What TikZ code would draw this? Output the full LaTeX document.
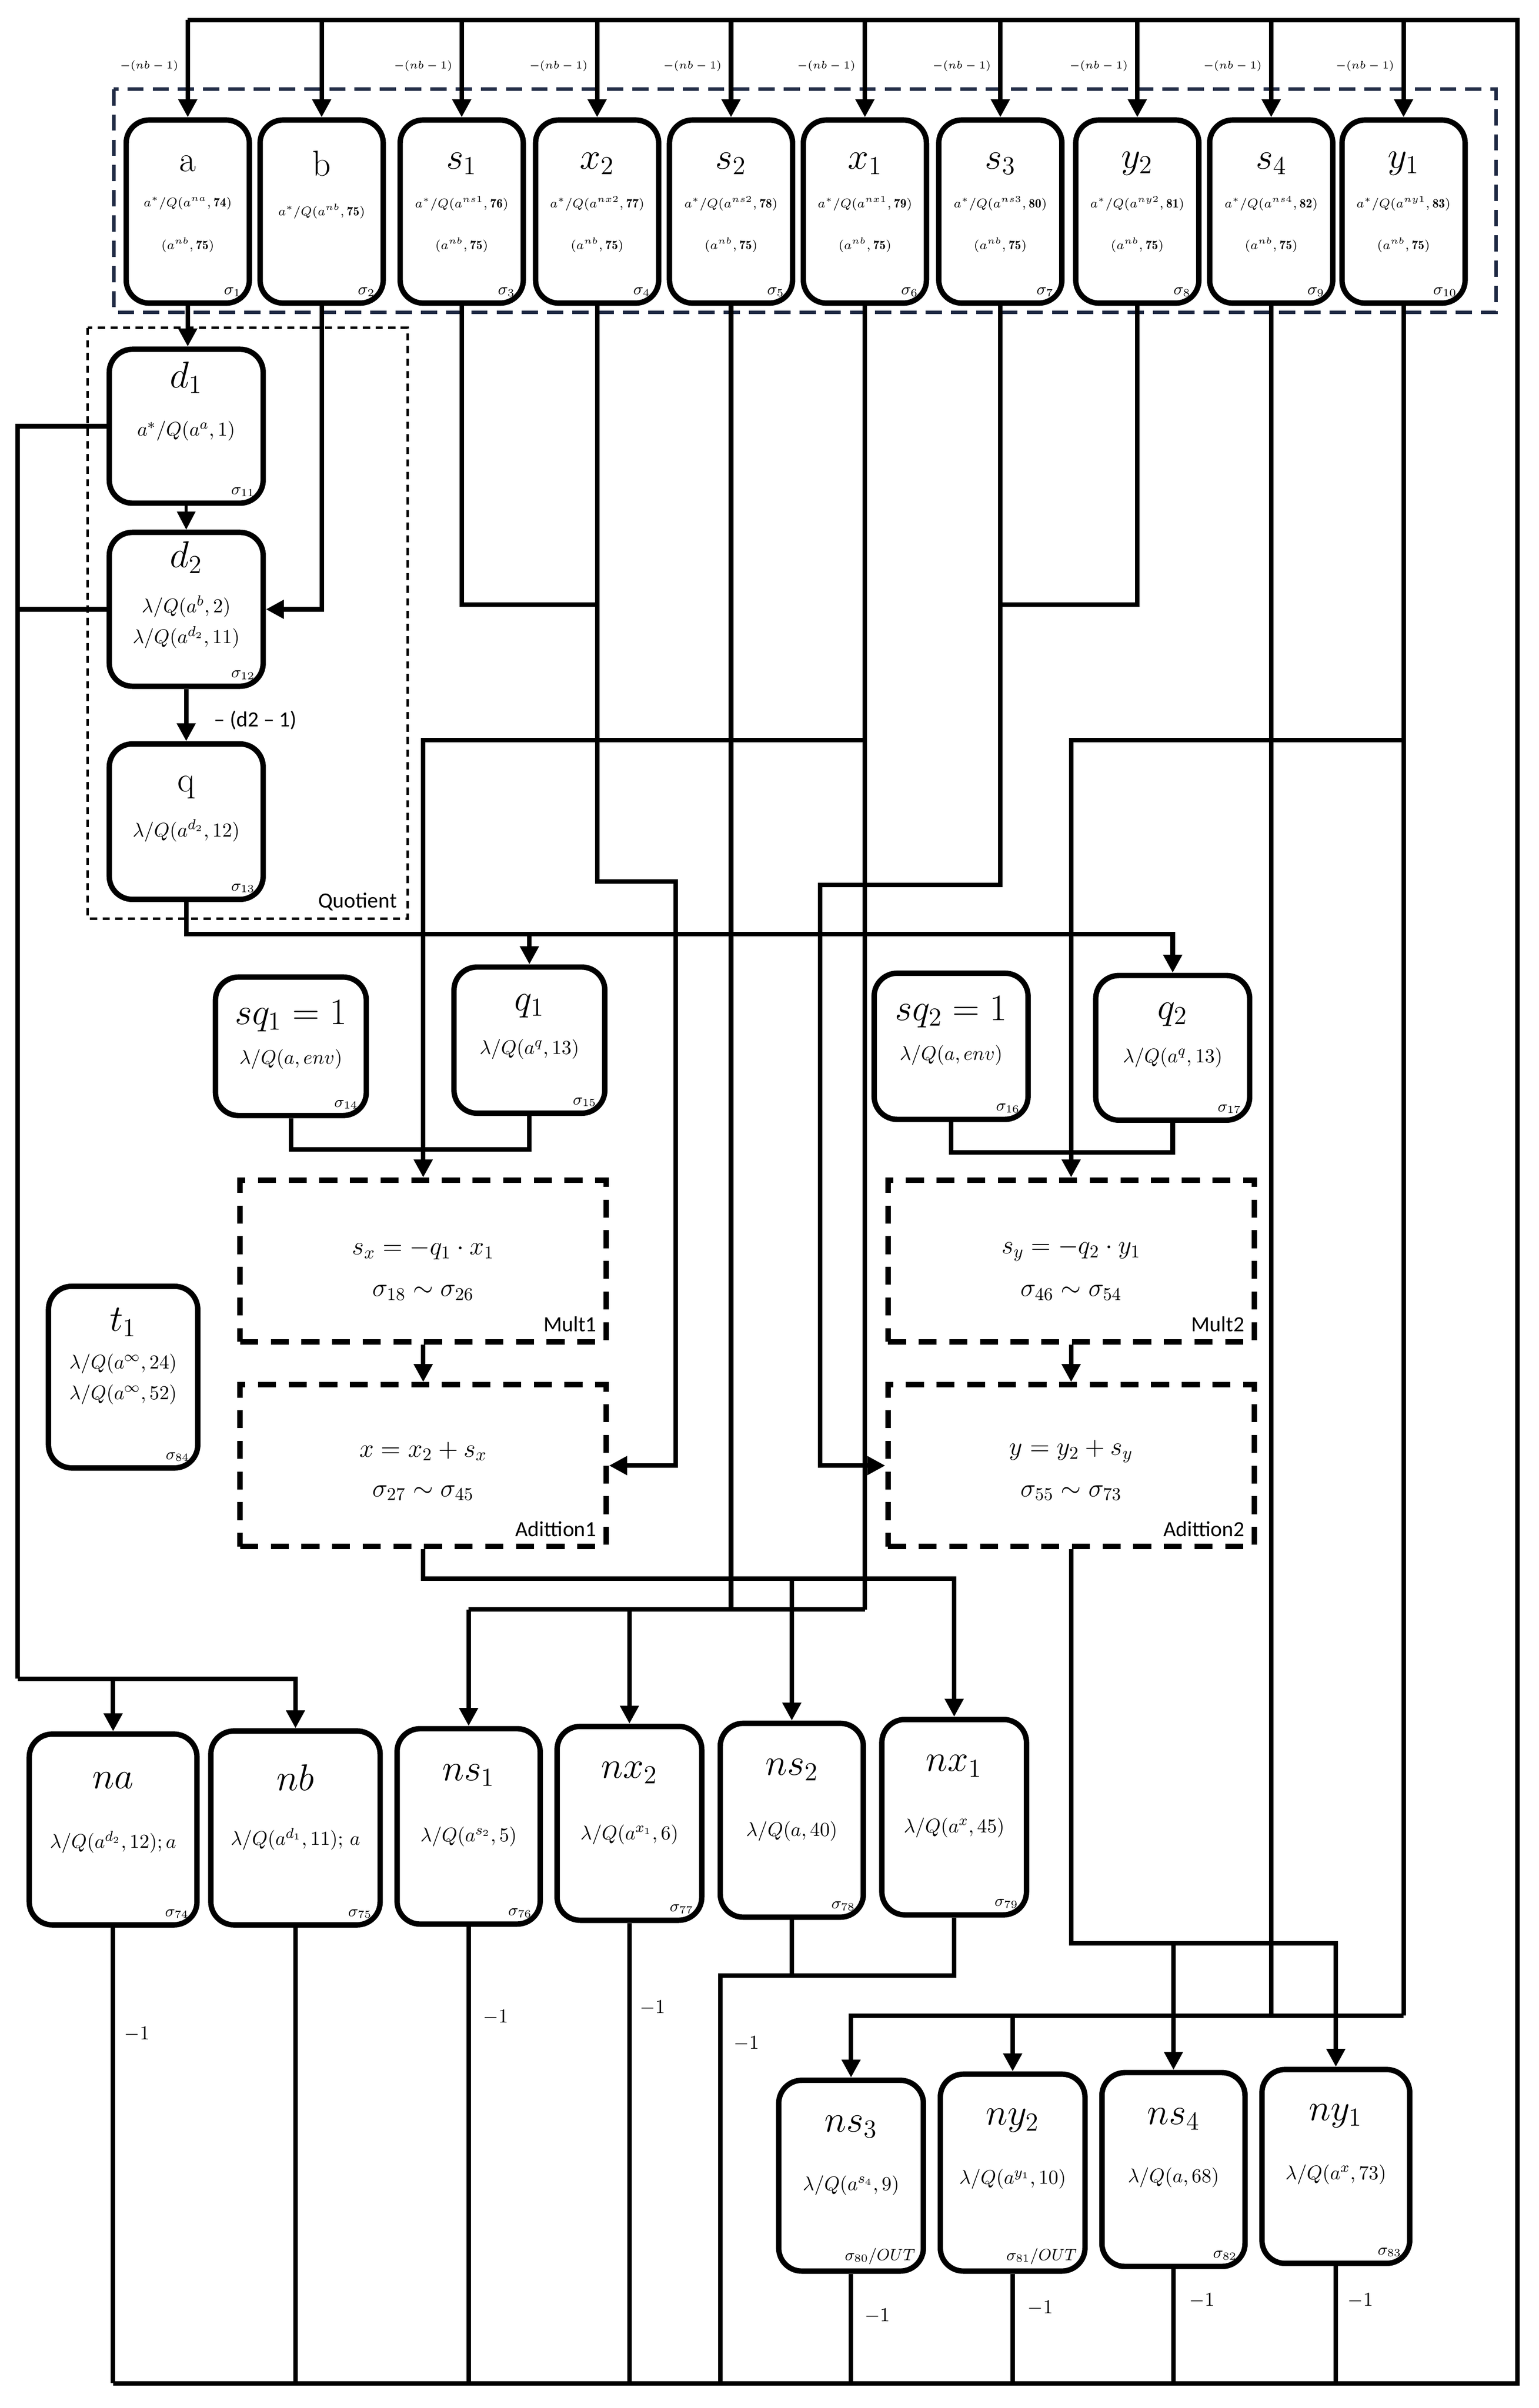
\documentclass[tikz,border=0pt]{standalone}
\usepackage{fontspec}
\setsansfont{Carlito}
\usetikzlibrary{calc,arrows.meta}
\definecolor{navy}{HTML}{1F2A44}
\begin{document}
\begin{tikzpicture}[x=0.03cm,y=-0.03cm,
 box/.style={draw,line width=3pt,rounded corners=4.5mm,inner sep=0pt,fill=white},
 dbox/.style={draw,line width=3pt,dash pattern=on 10pt off 7pt,inner sep=0pt},
 ln/.style={line width=2.5pt},
 ar/.style={line width=2.5pt,-{Triangle[length=10pt,width=10pt]}},
 big/.style={font=\fontsize{20}{22}\selectfont},
 mid/.style={font=\fontsize{11}{13}\selectfont},
 sml/.style={font=\fontsize{7}{8}\selectfont},
 sg/.style={font=\fontsize{9}{10}\selectfont,anchor=south east},
 tny/.style={font=\fontsize{6}{7}\selectfont,anchor=east},
 sfl/.style={font=\sffamily\fontsize{12}{14}\selectfont}]
\useasboundingbox (0,0) rectangle (1000,1565);
\newcommand\mybox[5]{\node[box,minimum width=#4*0.3mm,minimum height=#5*0.3mm] (#1) at (#2,#3) {};}
\newcommand\lab[4]{\node[#3] at ($(#1.north)+(0,#2)$) {#4};}
\newcommand\sgm[2]{\node[sg] at ($(#1.south east)+(-3,-2)$) {#2};}
% coordinates
\coordinate (T) at (986,13);
\coordinate (B) at (986,1549);
\coordinate (L) at (11.5,1091);
\coordinate (Qy) at (0,607);
\coordinate (Y747) at (0,747);
\coordinate (Y748) at (0,749);
\coordinate (J1) at (0,481);
\coordinate (Y393) at (0,393);
\coordinate (X2a) at (439,573);
\coordinate (S3a) at (533,575);
\coordinate (Y1046) at (0,1046);
\coordinate (Y1026) at (0,1026);
\coordinate (Y1263) at (0,1263);
\coordinate (Y1310) at (0,1310);
\coordinate (M) at (468,1284);
% dashed group boxes
\draw[navy,line width=2pt,dash pattern=on 9pt off 5pt] (74,58) rectangle (972,203);
\draw[line width=1.5pt,dash pattern=on 4pt off 3pt] (57,213) rectangle (265,597);
\node[sfl,anchor=south east] at (262,596) {Quotient};
% top nodes
\foreach \n/\x in {a/122,b/209,s1/300,x2/388,s2/475,x1/562,s3/650,y2/739,s4/826,y1/912}{
 \mybox{\n}{\x}{137.5}{80}{119}}
\lab{a}{30}{big}{a}
\lab{b}{30}{big}{b}
\lab{s1}{30}{big}{$s_1$}
\lab{x2}{30}{big}{$x_2$}
\lab{s2}{30}{big}{$s_2$}
\lab{x1}{30}{big}{$x_1$}
\lab{s3}{30}{big}{$s_3$}
\lab{y2}{30}{big}{$y_2$}
\lab{s4}{30}{big}{$s_4$}
\lab{y1}{30}{big}{$y_1$}
\lab{a}{56}{sml}{$a^*/Q(a^{na},\mathbf{74})$}
\lab{b}{61}{sml}{$a^*/Q(a^{nb},\mathbf{75})$}
\lab{s1}{56}{sml}{$a^*/Q(a^{ns1},\mathbf{76})$}
\lab{x2}{56}{sml}{$a^*/Q(a^{nx2},\mathbf{77})$}
\lab{s2}{56}{sml}{$a^*/Q(a^{ns2},\mathbf{78})$}
\lab{x1}{56}{sml}{$a^*/Q(a^{nx1},\mathbf{79})$}
\lab{s3}{56}{sml}{$a^*/Q(a^{ns3},\mathbf{80})$}
\lab{y2}{56}{sml}{$a^*/Q(a^{ny2},\mathbf{81})$}
\lab{s4}{56}{sml}{$a^*/Q(a^{ns4},\mathbf{82})$}
\lab{y1}{56}{sml}{$a^*/Q(a^{ny1},\mathbf{83})$}
\foreach \n in {a,s1,x2,s2,x1,s3,y2,s4,y1}{\lab{\n}{83}{sml}{$(a^{nb},\mathbf{75})$}}
\sgm{a}{$\sigma_1$}\sgm{b}{$\sigma_2$}\sgm{s1}{$\sigma_3$}\sgm{x2}{$\sigma_4$}\sgm{s2}{$\sigma_5$}
\sgm{x1}{$\sigma_6$}\sgm{s3}{$\sigma_7$}\sgm{y2}{$\sigma_8$}\sgm{s4}{$\sigma_9$}\sgm{y1}{$\sigma_{10}$}
% quotient nodes
\mybox{d1}{121}{277}{100}{100}
\lab{d1}{20}{big}{$d_1$}
\lab{d1}{55}{mid}{$a^*/Q(a^a,1)$}
\sgm{d1}{$\sigma_{11}$}
\mybox{d2}{121}{396}{100}{100}
\lab{d2}{18}{big}{$d_2$}
\lab{d2}{50}{mid}{$\lambda/Q(a^b,2)$}
\lab{d2}{70}{mid}{$\lambda/Q(a^{d_2},11)$}
\sgm{d2}{$\sigma_{12}$}
\mybox{q}{121}{534}{100}{101}
\lab{q}{30}{big}{q}
\lab{q}{58}{mid}{$\lambda/Q(a^{d_2},12)$}
\sgm{q}{$\sigma_{13}$}
% sq / q
\mybox{sq1}{189}{680}{98}{90}
\lab{sq1}{27}{big}{$sq_1=1$}
\lab{sq1}{55}{mid}{$\lambda/Q(a,env)$}
\sgm{sq1}{$\sigma_{14}$}
\mybox{q1}{344}{676}{98}{95}
\lab{q1}{27}{big}{$q_1$}
\lab{q1}{55}{mid}{$\lambda/Q(a^q,13)$}
\sgm{q1}{$\sigma_{15}$}
\mybox{sq2}{618}{680}{100}{95}
\lab{sq2}{27}{big}{$sq_2=1$}
\lab{sq2}{55}{mid}{$\lambda/Q(a,env)$}
\sgm{sq2}{$\sigma_{16}$}
\mybox{q2}{762}{681}{100}{94}
\lab{q2}{27}{big}{$q_2$}
\lab{q2}{55}{mid}{$\lambda/Q(a^q,13)$}
\sgm{q2}{$\sigma_{17}$}
% t1
\mybox{t1}{80}{895}{97}{118}
\lab{t1}{25}{big}{$t_1$}
\lab{t1}{52}{mid}{$\lambda/Q(a^\infty,24)$}
\lab{t1}{72}{mid}{$\lambda/Q(a^\infty,52)$}
\sgm{t1}{$\sigma_{84}$}
% mult / add
\node[dbox,minimum width=238*0.3mm,minimum height=105*0.3mm] (mult1) at (275,819.5) {};
\node[dbox,minimum width=238*0.3mm,minimum height=105*0.3mm] (add1) at (275,952.5) {};
\node[dbox,minimum width=238*0.3mm,minimum height=105*0.3mm] (mult2) at (696,819.5) {};
\node[dbox,minimum width=238*0.3mm,minimum height=105*0.3mm] (add2) at (696,952.5) {};
\lab{mult1}{47}{font=\fontsize{14}{16}\selectfont}{$s_x=-q_1\cdot x_1$}
\lab{mult1}{75}{font=\fontsize{14}{16}\selectfont}{$\sigma_{18}\sim\sigma_{26}$}
\node[sfl,anchor=south east] at ($(mult1.south east)+(-4,-4)$) {Mult1};
\lab{add1}{45}{font=\fontsize{14}{16}\selectfont}{$x=x_2+s_x$}
\lab{add1}{72}{font=\fontsize{14}{16}\selectfont}{$\sigma_{27}\sim\sigma_{45}$}
\node[sfl,anchor=south east] at ($(add1.south east)+(-4,-4)$) {Adittion1};
\lab{mult2}{47}{font=\fontsize{14}{16}\selectfont}{$s_y=-q_2\cdot y_1$}
\lab{mult2}{75}{font=\fontsize{14}{16}\selectfont}{$\sigma_{46}\sim\sigma_{54}$}
\node[sfl,anchor=south east] at ($(mult2.south east)+(-4,-4)$) {Mult2};
\lab{add2}{45}{font=\fontsize{14}{16}\selectfont}{$y=y_2+s_y$}
\lab{add2}{72}{font=\fontsize{14}{16}\selectfont}{$\sigma_{55}\sim\sigma_{73}$}
\node[sfl,anchor=south east] at ($(add2.south east)+(-4,-4)$) {Adittion2};
% bottom rows
\mybox{na}{73.5}{1189}{109}{124}
\mybox{nb}{192}{1188}{110}{126}
\mybox{ns1}{304.5}{1187}{93}{127}
\mybox{nx2}{409}{1185}{94}{126}
\mybox{ns2}{514.5}{1183}{93}{126}
\mybox{nx1}{620}{1181}{94}{127}
\mybox{ns3}{553}{1414}{94}{124}
\mybox{ny2}{658}{1412}{94}{128}
\mybox{ns4}{762.5}{1410}{93}{126}
\mybox{ny1}{868}{1408}{96}{126}
\lab{na}{32}{big}{$na$}\lab{na}{72}{mid}{$\lambda/Q(a^{d_2},12);a$}\sgm{na}{$\sigma_{74}$}
\lab{nb}{32}{big}{$nb$}\lab{nb}{72}{mid}{$\lambda/Q(a^{d_1},11);\,a$}\sgm{nb}{$\sigma_{75}$}
\lab{ns1}{32}{big}{$ns_1$}\lab{ns1}{72}{mid}{$\lambda/Q(a^{s_2},5)$}\sgm{ns1}{$\sigma_{76}$}
\lab{nx2}{32}{big}{$nx_2$}\lab{nx2}{72}{mid}{$\lambda/Q(a^{x_1},6)$}\sgm{nx2}{$\sigma_{77}$}
\lab{ns2}{32}{big}{$ns_2$}\lab{ns2}{72}{mid}{$\lambda/Q(a,40)$}\sgm{ns2}{$\sigma_{78}$}
\lab{nx1}{32}{big}{$nx_1$}\lab{nx1}{72}{mid}{$\lambda/Q(a^x,45)$}\sgm{nx1}{$\sigma_{79}$}
\lab{ns3}{32}{big}{$ns_3$}\lab{ns3}{70}{mid}{$\lambda/Q(a^{s_4},9)$}\sgm{ns3}{$\sigma_{80}/OUT$}
\lab{ny2}{32}{big}{$ny_2$}\lab{ny2}{70}{mid}{$\lambda/Q(a^{y_1},10)$}\sgm{ny2}{$\sigma_{81}/OUT$}
\lab{ns4}{32}{big}{$ns_4$}\lab{ns4}{70}{mid}{$\lambda/Q(a,68)$}\sgm{ns4}{$\sigma_{82}$}
\lab{ny1}{32}{big}{$ny_1$}\lab{ny1}{70}{mid}{$\lambda/Q(a^x,73)$}\sgm{ny1}{$\sigma_{83}$}
% feedback loop
\draw[ln] (na.south|-B) -- (B) -- (T) -- (a.north|-T);
\foreach \n in {a,b,s1,x2,s2,x1,s3,y2,s4,y1}{\draw[ar] (\n.north|-T) -- (\n.north);}
\foreach \n in {a,s1,x2,s2,x1,s3,y2,s4,y1}{\node[tny] at ($(\n.north|-T)+(-2,30)$) {$-(nb-1)$};}
\foreach \n in {na,nb,ns1,nx2,ns3,ny2,ns4,ny1}{\draw[ln] (\n.south) -- (\n.south|-B);}
\draw[ln] (ns2.south) -- (ns2.south|-M);
\draw[ln] (nx1.south) |- (M) -- (M|-B);
\foreach \p/\t in {{89,1322}/na,{322,1311}/ns1,{424,1305}/nx2,{485,1328}/ns2,{570,1505}/ns3,{676,1500}/ny2,{781,1495}/ns4,{884,1495}/ny1}{\node[mid] at (\p) {$-1$};}
% quotient
\draw[ar] (a.south) -- (a.south|-d1.north);
\draw[ar,line width=1.5pt] (d1.south) -- (d2.north);
\draw[ar] (d2.south) -- (q.north);
\node[sfl] at (166,468) {– (d2 – 1)};
\draw[ar] (b.south) |- (d2.east);
\draw[ln] (d1.west) -| (L);
\draw[ln] (d2.west) -- (d2.west-|L);
\draw[ar] (L) -| (nb.north);
\draw[ar] (na.north|-L) -- (na.north);
% q distribution
\draw[ar] (q.south) |- (q2.north|-Qy) -- (q2.north);
\draw[ar] (q1.north|-Qy) -- (q1.north);
\draw[ln] (sq1.south) |- (q1.south|-Y747) -- (q1.south);
\draw[ln] (sq2.south) |- (q2.south|-Y748) -- (q2.south);
% x / y
\draw[ln] (x1.south) -- (x1.south|-Y1046);
\draw[ar] (x1.south|-J1) -| (mult1.north);
\draw[ln] (y1.south) -- (y1.south|-Y1310);
\draw[ar] (y1.south|-Y1310) -| (ns3.north);
\draw[ar] (y1.south|-J1) -| (mult2.north);
\draw[ln] (s1.south) |- (x2.south|-Y393);
\draw[ar] (x2.south) |- (X2a) |- (add1.east);
\draw[ln] (y2.south) |- (s3.south|-Y393);
\draw[ar] (s3.south) |- (S3a) |- (add2.west);
\draw[ln] (s2.south) -- (s2.south|-Y1046);
\draw[ln] (ns1.north|-Y1046) -- (x1.south|-Y1046);
\draw[ar] (ns1.north|-Y1046) -- (ns1.north);
\draw[ar] (nx2.north|-Y1046) -- (nx2.north);
\draw[ar] (mult1.south) -- (add1.north);
\draw[ar] (mult2.south) -- (add2.north);
\draw[ar] (add1.south) |- (nx1.north|-Y1026) -- (nx1.north);
\draw[ar] (ns2.north|-Y1026) -- (ns2.north);
\draw[ar] (add2.south) |- (ny1.north|-Y1263) -- (ny1.north);
\draw[ar] (ns4.north|-Y1263) -- (ns4.north);
\draw[ln] (s4.south) -- (s4.south|-Y1310);
\draw[ar] (ny2.north|-Y1310) -- (ny2.north);
\end{tikzpicture}
\end{document}
